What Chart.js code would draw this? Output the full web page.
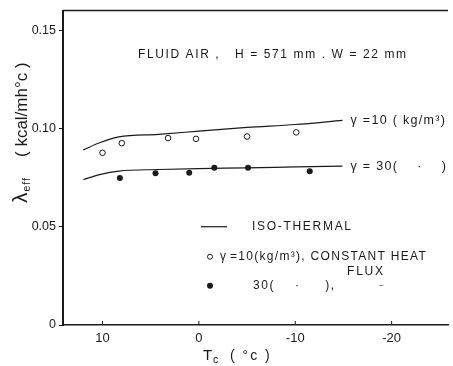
<!DOCTYPE html>
<html lang="en">
<head>
  <meta charset="UTF-8">
  <title>Effective thermal conductivity vs Tc</title>
  <script src="https://cdn.jsdelivr.net/npm/chart.js"></script>
  <style>
    html, body { margin: 0; padding: 0; background: #fff; }
    #wrap { width: 453px; height: 366px; }
  </style>
</head>
<body>
  <div id="wrap"><canvas id="grafico" width="453" height="366"></canvas></div>
  <script>
    // iso-thermal curves (solid lines)
    const tempIso = [12.0, 10.3, 8.3, 4.2, 0.0, -5.0, -10.0, -14.9];
    const iso10 = [0.0891, 0.0927, 0.0957, 0.0970, 0.0986, 0.1005, 0.1020, 0.1041];
    const iso30 = [0.0740, 0.0765, 0.0783, 0.0791, 0.0796, 0.0799, 0.0804, 0.0808];

    // constant heat flux measurements
    const tempFlux10 = [10.0, 8.0, 3.2, 0.3, -5.0, -10.1];
    const flux10 = [0.0876, 0.0925, 0.0951, 0.0947, 0.0959, 0.0980];
    const tempFlux30 = [8.2, 4.5, 1.0, -1.6, -5.1, -11.5];
    const flux30 = [0.0748, 0.0772, 0.0774, 0.0800, 0.0800, 0.0782];

    const xTicks = [10, 0, -10, -20];
    const yTicks = [0, 0.05, 0.10, 0.15];

    const FONT = "'Liberation Sans', Arial, sans-serif";
    const INK = "#1a1a1a";

    const pares = (xs, ys) => xs.map((v, i) => ({ x: v, y: ys[i] }));

    function texto(ctx, s, x, y, size, spacing) {
      ctx.font = size + "px " + FONT;
      ctx.letterSpacing = (spacing || 0) + "px";
      ctx.fillText(s, x, y);
      return ctx.measureText(s).width;
    }

    const anotacoes = {
      id: "anotacoes",
      afterDraw(chart) {
        const { ctx, chartArea: a, scales: { x, y } } = chart;
        ctx.save();
        ctx.strokeStyle = INK;
        ctx.fillStyle = INK;

        // top frame
        ctx.lineWidth = 1.5;
        ctx.beginPath();
        ctx.moveTo(a.left, a.top);
        ctx.lineTo(a.right, a.top);
        ctx.stroke();

        // x ticks point into the plot
        ctx.lineWidth = 1;
        xTicks.forEach(v => {
          const px = x.getPixelForValue(v);
          ctx.beginPath();
          ctx.moveTo(px, a.bottom);
          ctx.lineTo(px, a.bottom - 4);
          ctx.stroke();
        });

        ctx.textBaseline = "middle";
        ctx.textAlign = "left";

        // header
        texto(ctx, "FLUID AIR ,   H = 571 mm . W = 22 mm", a.left + 75, 55, 12, 1.6);

        // curve labels
        const n = tempIso.length - 1;
        const lx = x.getPixelForValue(tempIso[n]) + 8;
        texto(ctx, "γ =10 ( kg/m³)", lx, y.getPixelForValue(iso10[n]), 12.5, 1.3);
        texto(ctx, "γ = 30(    ·    )", lx, y.getPixelForValue(iso30[n]), 12.5, 1.3);

        // legend
        const ly = y.getPixelForValue(0.05);
        ctx.lineWidth = 1.2;
        ctx.beginPath();
        ctx.moveTo(a.left + 138, ly);
        ctx.lineTo(a.left + 164, ly);
        ctx.stroke();
        texto(ctx, "ISO-THERMAL", a.left + 189, ly, 12, 1.7);

        ctx.lineWidth = 1;
        ctx.beginPath();
        ctx.arc(a.left + 147, ly + 30, 2.5, 0, Math.PI * 2);
        ctx.stroke();
        texto(ctx, "γ", a.left + 157, ly + 30, 12, 0);
        texto(ctx, "=10(kg/m³), CONSTANT HEAT", a.left + 167, ly + 30, 12, 1.3);
        texto(ctx, "FLUX", a.left + 284, ly + 45, 12, 1.8);

        ctx.beginPath();
        ctx.arc(a.left + 147, ly + 59, 3, 0, Math.PI * 2);
        ctx.fill();
        texto(ctx, "30(    ·     ),", a.left + 190, ly + 59, 12, 1.6);
        texto(ctx, "~", a.left + 316, ly + 59, 8, 0);

        // x axis title
        ctx.textBaseline = "alphabetic";
        texto(ctx, "T", 203, 360, 15, 0);
        texto(ctx, "c", 213, 363, 11, 0);
        texto(ctx, "( °c )", 230, 360, 14, 2);

        // y axis title, rotated
        ctx.translate(27, 203);
        ctx.rotate(-Math.PI / 2);
        const wl = texto(ctx, "λ", 0, 0, 21, 0);
        texto(ctx, "eff", wl + 1, 3, 10.5, 1);
        texto(ctx, "( kcal/mh°c )", 46, 0, 17, 0);
        ctx.restore();
      }
    };

    new Chart(document.getElementById("grafico"), {
      type: "scatter",
      data: {
        datasets: [
          {
            data: pares(tempIso, iso10),
            showLine: true,
            borderColor: INK,
            borderWidth: 1.2,
            pointRadius: 0,
            cubicInterpolationMode: "monotone"
          },
          {
            data: pares(tempIso, iso30),
            showLine: true,
            borderColor: INK,
            borderWidth: 1.2,
            pointRadius: 0,
            cubicInterpolationMode: "monotone"
          },
          {
            data: pares(tempFlux10, flux10),
            pointRadius: 2.8,
            pointBorderWidth: 1,
            pointBorderColor: INK,
            pointBackgroundColor: "#fff"
          },
          {
            data: pares(tempFlux30, flux30),
            pointRadius: 3,
            pointBorderWidth: 0,
            pointBackgroundColor: INK
          }
        ]
      },
      options: {
        responsive: false,
        animation: false,
        layout: { padding: { top: 10, right: 0, left: 0, bottom: 0 } },
        plugins: { legend: { display: false }, tooltip: { enabled: false } },
        scales: {
          x: {
            type: "linear",
            reverse: true,
            min: -25.85,
            max: 14.1,
            afterBuildTicks: s => { s.ticks = xTicks.map(v => ({ value: v })); },
            afterFit: s => { s.height = 41; },
            grid: { drawOnChartArea: false, drawTicks: false },
            border: { color: INK, width: 1.5 },
            ticks: { color: INK, padding: 6, font: { family: FONT, size: 13 } }
          },
          y: {
            min: 0,
            max: 0.16,
            afterBuildTicks: s => { s.ticks = yTicks.map(v => ({ value: v })); },
            afterFit: s => { s.width = 63; },
            grid: { drawOnChartArea: false, drawTicks: true, tickLength: 4, color: INK },
            border: { color: INK, width: 2 },
            ticks: {
              color: INK,
              padding: 3,
              font: { family: FONT, size: 12.5 },
              callback: v => (v === 0 ? "0" : v.toFixed(2))
            }
          }
        }
      },
      plugins: [anotacoes]
    });
  </script>
</body>
</html>
